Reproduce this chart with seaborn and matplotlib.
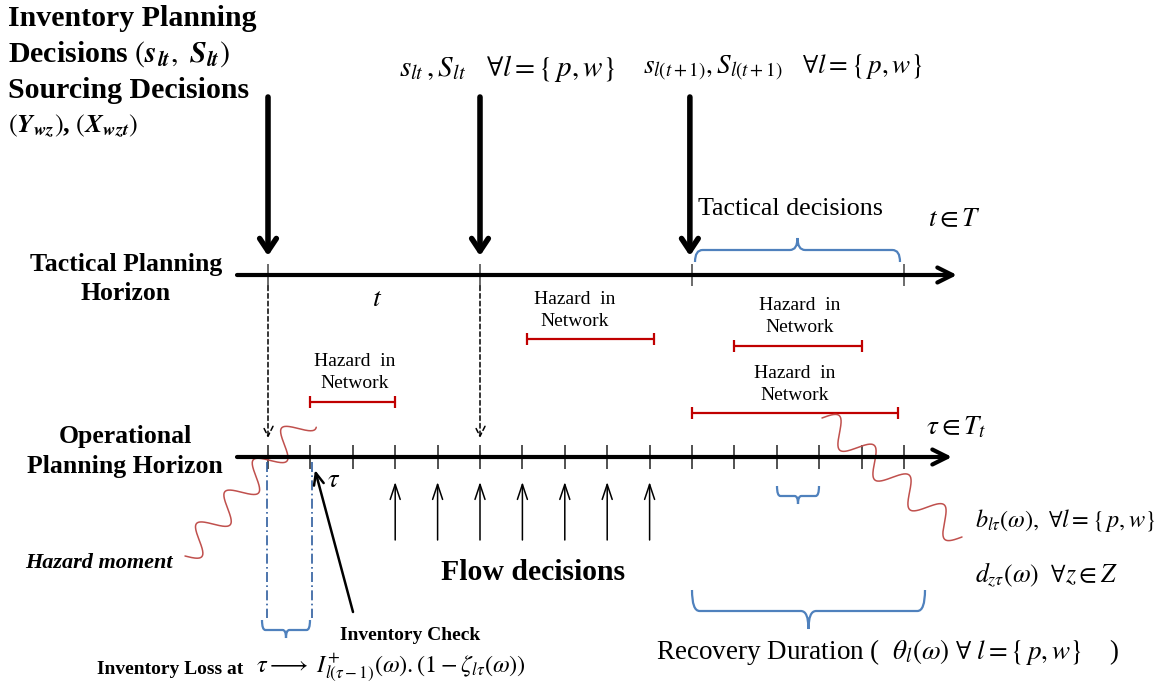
import numpy as np
import pandas as pd
import seaborn as sns
import matplotlib.pyplot as plt
from matplotlib.path import Path
from matplotlib.patches import PathPatch

# ---- diagram content (periods in tau units) ----
op_periods = [0, 1, 2, 3, 4, 5, 6, 7, 8, 9, 10, 11, 12, 13, 14, 15]
tact_periods = [0, 5, 10, 15]
decision_periods = [0, 5, 9.95]
hazard_start = [1, 6.1, 11, 10]
hazard_end = [3, 9.1, 14, 14.85]
flow_periods = [3, 4, 5, 6, 7, 8, 9]

# pixel layout helpers (x in tau units, y in pixel rows)
X0, STEP = 268, 42.4
W, H = 1166, 690


def tx(px):
    return (np.asarray(px, float) - X0) / STEP


def brace(ax, x0, x1, y_end, y_mid, y_tip, color, rx=0.18, lw=1.6):
    xc = (x0 + x1) / 2
    verts = [(x0, y_end), (x0, y_mid), (x0 + rx, y_mid),
             (xc - rx, y_mid), (xc, y_mid), (xc, y_tip),
             (xc, y_mid), (xc + rx, y_mid),
             (x1 - rx, y_mid), (x1, y_mid), (x1, y_end)]
    codes = [Path.MOVETO, Path.CURVE3, Path.CURVE3,
             Path.LINETO, Path.CURVE3, Path.CURVE3,
             Path.CURVE3, Path.CURVE3,
             Path.LINETO, Path.CURVE3, Path.CURVE3]
    ax.add_patch(PathPatch(Path(verts, codes), fill=False, ec=color, lw=lw))


def wave(ax, p0, p1, periods, amp, color):
    p0, p1 = np.array(p0, float), np.array(p1, float)
    s = np.linspace(0, 1, 400)
    d = p1 - p0
    n = np.array([-d[1], d[0]]) / np.hypot(*d)
    pts = p0[None, :] + s[:, None] * d[None, :] + amp * np.sin(2 * np.pi * periods * s)[:, None] * n[None, :]
    ax.plot(tx(pts[:, 0]), pts[:, 1], color=color, lw=1.1)


def arrow(ax, x0, y0, x1, y1, style, lw, ls='-', color='black'):
    ax.annotate('', xy=(x1, y1), xytext=(x0, y0),
                arrowprops=dict(arrowstyle=style, lw=lw, ls=ls, color=color,
                                shrinkA=0, shrinkB=0))


sns.set_theme(style='white')
plt.rcParams['font.family'] = ['Liberation Serif', 'DejaVu Serif']
plt.rcParams['mathtext.fontset'] = 'stix'
plt.rcParams['text.color'] = 'black'

fig = plt.figure(figsize=(W / 100, H / 100), dpi=100)
ax = fig.add_axes([0, 0, 1, 1])
ax.set_xlim(tx(0), tx(W))
ax.set_ylim(H, 0)
ax.axis('off')

BLUE = '#4F81BD'
DBLUE = '#2F5E9E'
RED = '#C00000'
WRED = '#C0504D'
Y_TAC, Y_OP = 275, 457

# horizon axes
arrow(ax, tx(237), Y_TAC, tx(957), Y_TAC, '->,head_length=0.9,head_width=0.45', 3)
arrow(ax, tx(237), Y_OP, tx(952), Y_OP, '->,head_length=0.9,head_width=0.45', 3)
ax.vlines(tact_periods, Y_TAC - 11, Y_TAC + 11, color='#444444', lw=1.1)
ax.vlines(op_periods, Y_OP - 12, Y_OP + 12, color='#222222', lw=1.1)

# tactical decision arrows
for p in decision_periods:
    arrow(ax, p, 97, p, 256, '->,head_length=0.75,head_width=0.5', 4)
for p in tact_periods[:2]:
    arrow(ax, p, 286, p, 438, '->,head_length=0.6,head_width=0.3', 1.1, ls=(0, (3, 2)))

# hazard intervals
rows = []
for i, (a, b) in enumerate(zip(hazard_start, hazard_end)):
    rows += [dict(seg=i, x=a), dict(seg=i, x=b)]
haz = pd.DataFrame(rows)
haz_y = [402, 339, 346, 413]
haz['y'] = haz['seg'].map(dict(enumerate(haz_y)))
sns.lineplot(data=haz, x='x', y='y', units='seg', estimator=None, color=RED, lw=1.6, ax=ax, legend=False)
ax.vlines(hazard_start + hazard_end, np.array(haz_y * 2) - 6, np.array(haz_y * 2) + 6, color=RED, lw=1.6)
haz_lx = [tx(355), tx(575), tx(800), tx(795)]
for lx, y in zip(haz_lx, haz_y):
    ax.text(lx, y - 40, 'Hazard  in', ha='center', va='center', fontsize=14)
    ax.text(lx, y - 18, 'Network', ha='center', va='center', fontsize=14)

# flow decision arrows
for p in flow_periods:
    arrow(ax, p, 540, p, 482, '->,head_length=0.9,head_width=0.3', 1.1)

# inventory check dash-dot lines
ax.vlines([tx(267), tx(312)], 462, 618, color=DBLUE, lw=1.2, ls=(0, (6, 2, 1, 2)))
arrow(ax, tx(353), 612, tx(315), 470, '->,head_length=0.7,head_width=0.3', 1.8)

# braces
brace(ax, tx(695), tx(900), 262, 250, 238, BLUE)
brace(ax, tx(262), tx(310), 620, 630, 638, BLUE, rx=0.08)
brace(ax, tx(777), tx(819), 486, 496, 504, BLUE, rx=0.08)
brace(ax, tx(692), tx(925), 590, 611, 629, BLUE)

# hazard waves
wave(ax, (185, 556), (307, 419), 4.3, 13, WRED)
wave(ax, (822, 418), (962, 537), 4.0, -13, WRED)

# text
head = dict(fontsize=21.5, fontweight='bold', ha='left', va='center')
ax.text(tx(8), 19, 'Inventory Planning', **head)
ax.text(tx(8), 54, r'Decisions $(\mathbfit{s_{lt}},\ \mathbfit{S_{lt}})$', **head)
ax.text(tx(8), 90, 'Sourcing Decisions', **head)
ax.text(tx(8), 126, r'$(\mathbfit{Y_{wz}})$, $(\mathbfit{X_{wzt}})$', fontsize=19, fontweight='bold',
        ha='left', va='center')

ax.text(tx(507), 68, r'$s_{lt}\,,S_{lt}\quad\forall l=\{\,p,w\}$', fontsize=21, ha='center', va='center')
ax.text(tx(783), 68, r'$s_{l(t+1)},S_{l(t+1)}\quad\forall l=\{\,p,w\}$', fontsize=19.5, ha='center', va='center')

lab = dict(fontsize=18.5, fontweight='bold', ha='center', va='center')
ax.text(tx(126), 264, 'Tactical Planning', **lab)
ax.text(tx(126), 294, 'Horizon', **lab)
ax.text(tx(125), 437, 'Operational', **lab)
ax.text(tx(125), 467, 'Planning Horizon', **lab)

ax.text(tx(377), 300, r'$t$', fontsize=20, ha='center', va='center')
ax.text(tx(790), 209, 'Tactical decisions', fontsize=18.7, ha='center', va='center')
ax.text(tx(928), 220, r'$t\in T$', fontsize=19.5, ha='left', va='center')
ax.text(tx(926), 428, r'$\tau\in T_t$', fontsize=19.5, ha='left', va='center')
ax.text(tx(327), 481, r'$\tau$', fontsize=19, ha='left', va='center')

ax.text(tx(25), 563, 'Hazard moment', fontsize=16, fontweight='bold', style='italic', ha='left', va='center')
ax.text(tx(533), 572, 'Flow decisions', fontsize=21.4, fontweight='bold', ha='center', va='center')
ax.text(tx(410), 635, 'Inventory Check', fontsize=14, fontweight='bold', ha='center', va='center')
ax.text(tx(97), 670, 'Inventory Loss at', fontsize=14, fontweight='bold', ha='left', va='center')
ax.text(tx(256), 668, r'$\tau\longrightarrow\ I^{+}_{l(\tau-1)}(\omega).(1-\zeta_{l\tau}(\omega))$',
        fontsize=17.5, ha='left', va='center')

ax.text(tx(975), 520, r'$b_{l\tau}(\omega),\ \forall l=\{\,p,w\}$', fontsize=17.5, ha='left', va='center')
ax.text(tx(975), 575, r'$d_{z\tau}(\omega)\ \ \forall z\in Z$', fontsize=18.5, ha='left', va='center')
ax.text(tx(656), 652, r'Recovery Duration (  $\theta_l(\omega)\ \forall\ l=\{\,p,w\}$    )',
        fontsize=19.5, ha='left', va='center')

fig.savefig('out.png', dpi=100)
